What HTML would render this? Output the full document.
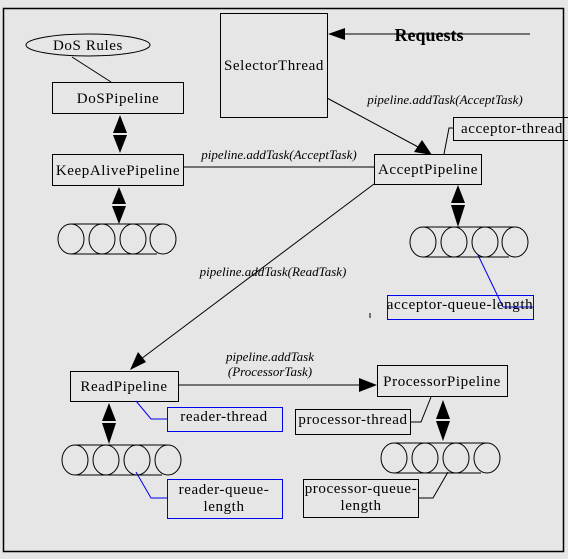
<!DOCTYPE html>
<html><head><meta charset="utf-8"><style>
html,body{margin:0;padding:0;background:#e6e6e6;}
svg{display:block;}
text{font-family:"Liberation Serif",serif;fill:#000;}
.b{font-size:15px;letter-spacing:0.6px;}
.i{font-size:13px;font-style:italic;}
</style></head><body>
<svg width="568" height="559" viewBox="0 0 568 559" xmlns="http://www.w3.org/2000/svg">
<rect x="0" y="0" width="568" height="559" fill="#e6e6e6"/>
<rect x="3.5" y="8.5" width="560" height="543" fill="none" stroke="#000" stroke-width="1.5"/>
<g fill="none" stroke="#000" stroke-width="1">
<ellipse cx="88" cy="45" rx="62" ry="11"/>
<line x1="72" y1="57" x2="111" y2="82"/>
<rect x="52.5" y="82.5" width="131" height="31"/>
<rect x="52.5" y="154.5" width="131" height="31"/>
<rect x="220.5" y="13.5" width="107" height="104"/>
<line x1="530" y1="34" x2="340" y2="34"/>
<line x1="327" y1="98" x2="420" y2="148"/>
<rect x="374.5" y="154.5" width="107" height="30"/>
<rect x="453.5" y="117.5" width="120" height="23"/>
<polyline points="444,154 449,128 453,128"/>
<line x1="183" y1="167" x2="374" y2="167"/>
<line x1="374" y1="184" x2="137" y2="362"/>
<rect x="70.5" y="371.5" width="108" height="30"/>
<line x1="178" y1="385" x2="360" y2="385"/>
<rect x="377.5" y="365.5" width="130" height="31"/>
<rect x="295.5" y="409.5" width="115" height="25"/>
<polyline points="431,397 421,422 411,422"/>
<rect x="303.5" y="479.5" width="115" height="38"/>
<polyline points="448,472 433,498 418,498"/>
<line x1="370" y1="313" x2="370" y2="318"/>
</g>
<g fill="none" stroke="#0000ee" stroke-width="1">
<rect x="387.5" y="295.5" width="146" height="24"/>
<line x1="478" y1="255" x2="503" y2="307"/>
<line x1="503" y1="307" x2="533" y2="307"/>
<rect x="167.5" y="407.5" width="115" height="24"/>
<polyline points="136,401 151,419 167,419"/>
<rect x="167.5" y="479.5" width="115" height="39"/>
<polyline points="136,472 151,498 167,498"/>
</g>
<g fill="#000">
<polygon points="328,34 345,28 345,40"/>
<polygon points="432,155 414,152 422,140"/>
<polygon points="130,370 138,352 146,362"/>
<polygon points="377,385 359,378 359,392"/>
<polygon points="120,115 113,133 127,133"/><polygon points="120,153 113,135 127,135"/>
<polygon points="119,187 112,204 126,204"/><polygon points="119,224 112,206 126,206"/>
<polygon points="458,185 451,203 465,203"/><polygon points="458,227 451,205 465,205"/>
<polygon points="109,403 102,421 116,421"/><polygon points="109,444 102,423 116,423"/>
<polygon points="443,400 436,419 450,419"/><polygon points="443,441 436,421 450,421"/>
</g>
<g fill="none" stroke="#000" stroke-width="1">
<g transform="translate(57,224)">
<line x1="14" y1="0" x2="106" y2="0"/><line x1="14" y1="30" x2="100" y2="30"/>
<ellipse cx="14" cy="15" rx="13" ry="15"/><ellipse cx="45" cy="15" rx="13" ry="15"/><ellipse cx="76" cy="15" rx="13" ry="15"/><ellipse cx="106" cy="15" rx="13" ry="15"/>
</g>
<g transform="translate(409,227)">
<line x1="14" y1="0" x2="106" y2="0"/><line x1="14" y1="30" x2="100" y2="30"/>
<ellipse cx="14" cy="15" rx="13" ry="15"/><ellipse cx="45" cy="15" rx="13" ry="15"/><ellipse cx="76" cy="15" rx="13" ry="15"/><ellipse cx="106" cy="15" rx="13" ry="15"/>
</g>
<g transform="translate(62,445)">
<line x1="14" y1="0" x2="106" y2="0"/><line x1="14" y1="30" x2="100" y2="30"/>
<ellipse cx="13" cy="15" rx="13" ry="15"/><ellipse cx="44" cy="15" rx="13" ry="15"/><ellipse cx="75" cy="15" rx="13" ry="15"/><ellipse cx="106" cy="15" rx="13" ry="15"/>
</g>
<g transform="translate(381,443)">
<line x1="14" y1="0" x2="106" y2="0"/><line x1="14" y1="30" x2="100" y2="30"/>
<ellipse cx="13" cy="15" rx="13" ry="15"/><ellipse cx="44" cy="15" rx="13" ry="15"/><ellipse cx="75" cy="15" rx="13" ry="15"/><ellipse cx="106" cy="15" rx="13" ry="15"/>
</g>
</g>
<text class="b" x="88" y="50" text-anchor="middle">DoS Rules</text>
<text class="b" x="118" y="103" text-anchor="middle">DoSPipeline</text>
<text class="b" x="118" y="175" text-anchor="middle">KeepAlivePipeline</text>
<text class="b" x="274" y="70" text-anchor="middle">SelectorThread</text>
<text x="429" y="41" text-anchor="middle" font-size="18" font-weight="bold">Requests</text>
<text class="i" x="445" y="104" text-anchor="middle">pipeline.addTask(AcceptTask)</text>
<text class="i" x="279" y="159" text-anchor="middle">pipeline.addTask(AcceptTask)</text>
<text class="b" x="428" y="174" text-anchor="middle">AcceptPipeline</text>
<text class="b" x="512" y="133" text-anchor="middle">acceptor-thread</text>
<text class="b" x="460" y="309" text-anchor="middle">acceptor-queue-length</text>
<text class="i" x="273" y="276" text-anchor="middle">pipeline.addTask(ReadTask)</text>
<text class="b" x="124" y="391" text-anchor="middle">ReadPipeline</text>
<text class="i" x="270" y="361" text-anchor="middle">pipeline.addTask</text>
<text class="i" x="270" y="376" text-anchor="middle">(ProcessorTask)</text>
<text class="b" x="442" y="386" text-anchor="middle">ProcessorPipeline</text>
<text class="b" x="224" y="421" text-anchor="middle">reader-thread</text>
<text class="b" x="353" y="424" text-anchor="middle">processor-thread</text>
<text class="b" x="224" y="494" text-anchor="middle">reader-queue-</text>
<text class="b" x="224" y="511" text-anchor="middle">length</text>
<text class="b" x="361" y="493" text-anchor="middle">processor-queue-</text>
<text class="b" x="361" y="510" text-anchor="middle">length</text>
</svg>
</body></html>
